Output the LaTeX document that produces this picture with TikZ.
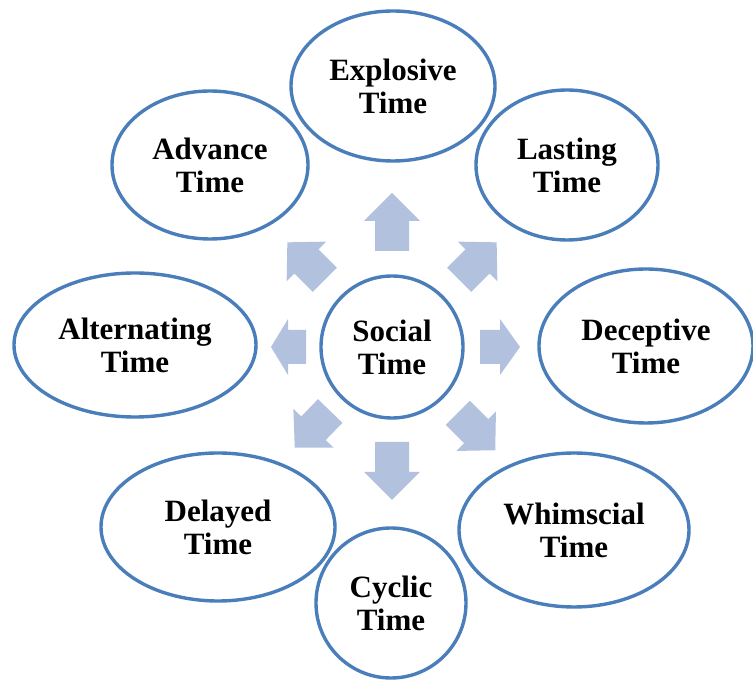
\documentclass[tikz,border=0pt]{standalone}
\usepackage{fontspec}
\setmainfont{Liberation Serif}
\usetikzlibrary{shapes.geometric}

\definecolor{ringblue}{RGB}{74,126,187}
\definecolor{arrowblue}{RGB}{178,193,221}

\tikzset{
  bubble/.style={ellipse, draw=ringblue, line width=3.4pt, fill=white,
    inner sep=0pt, align=center,
    font=\fontsize{31}{33}\selectfont\bfseries},
  spoke/.style={fill=arrowblue, draw=none}
}

% block arrow pointing away from the hub: angle, start radius, tip radius, head length
\newcommand\hubspoke[4]{%
  \fill[spoke, shift={(social.center)}, rotate=#1]
    (#2,-17) -- ({#3-#4},-17) -- ({#3-#4},-28) -- (#3,0)
    -- ({#3-#4},28) -- ({#3-#4},17) -- (#2,17) -- cycle;}

\begin{document}
\begin{tikzpicture}[x=1pt,y=1pt]
\useasboundingbox (0,0) rectangle (753,680);

% outer ring of time kinds
\node[bubble, minimum width=204, minimum height=150] (explosive) at (393,594) {Explosive\\Time};
\node[bubble, minimum width=196, minimum height=148] (advance) at (210,515) {Advance\\Time};
\node[bubble, minimum width=182, minimum height=150] (lasting) at (567,515) {Lasting\\Time};
\node[bubble, minimum width=242, minimum height=144] (alternating) at (135,335) {Alternating\\Time};
\node[bubble, minimum width=214, minimum height=154] (deceptive) at (646,334) {Deceptive\\Time};
\node[bubble, minimum width=234, minimum height=148] (delayed) at (218,153) {Delayed\\Time};
\node[bubble, minimum width=230, minimum height=154] (whimscial) at (574,150) {Whimscial\\Time};
\node[bubble, minimum width=150, minimum height=150] (cyclic) at (391,77) {Cyclic\\Time};

% hub
\node[bubble, minimum width=142, minimum height=142] (social) at (392,333) {Social\\Time};

% radial arrows
\hubspoke{90}{96}{154}{28}
\hubspoke{-90}{95}{153}{28}
\hubspoke{0}{88}{128}{20}
\hubspoke{180}{86}{121}{17}
\hubspoke{135}{95}{148}{27}
\hubspoke{45}{95}{148}{27}
\hubspoke{-45}{93}{146}{27}
\hubspoke{-134}{89}{140}{27}
\end{tikzpicture}
\end{document}
